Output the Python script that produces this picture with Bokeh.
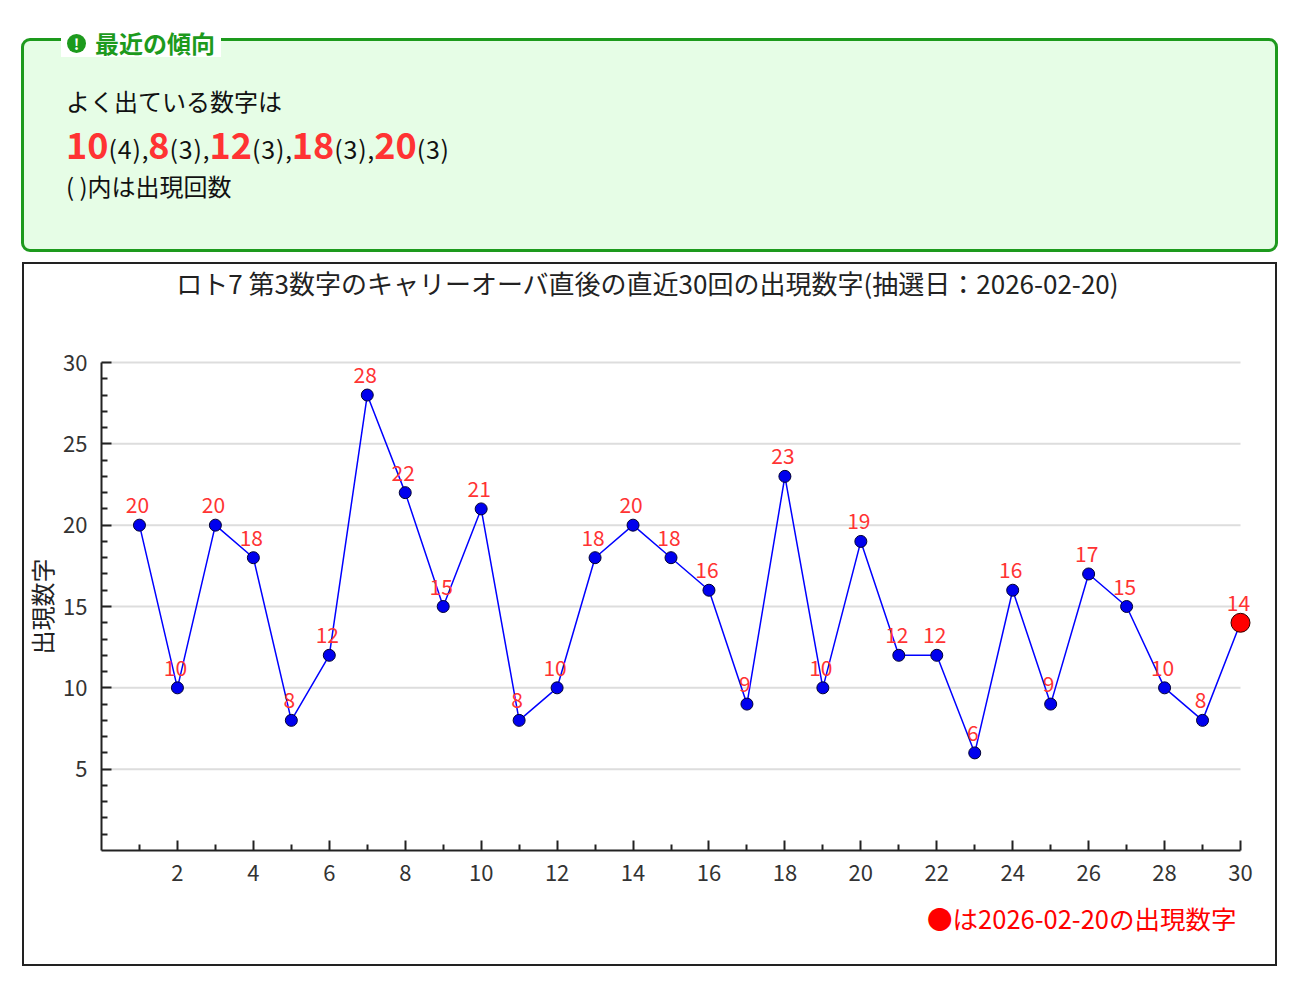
from bokeh.plotting import figure
from bokeh.models import Div, FixedTicker, ColumnDataSource, Label
from bokeh.layouts import column
from bokeh.core.properties import value
from bokeh.embed import file_html
from bokeh.resources import INLINE

# データ
kaisu = list(range(1, 31))
suji = [20, 10, 20, 18, 8, 12, 28, 22, 15, 21, 8, 10, 18, 20, 18,
        16, 9, 23, 10, 19, 12, 12, 6, 16, 9, 17, 15, 10, 8, 14]
yoku_deru = [10, 8, 12, 18, 20]
deta_kaisu = [4, 3, 3, 3, 3]
chusen_bi = "2026-02-20"
y_ticks = [5, 10, 15, 20, 25, 30]
y_minor = [i for i in range(1, 30) if i % 5 != 0]
x_ticks = list(range(2, 31, 2))
x_minor = list(range(1, 30, 2))

FONT = "Noto Sans CJK JP"
GREEN = "#1d9a1d"
RED = "#ff3333"

# 上の枠（最近の傾向）
nums_html = ",".join(
    f'<span style="color:{RED};font-weight:bold;font-size:36px">{n}</span>'
    f'<span style="font-size:25px;letter-spacing:0.8px">({c})</span>'
    for n, c in zip(yoku_deru, deta_kaisu))
html = f"""
<div style="position:relative;width:1276px;height:252px;font-family:'{FONT}';color:#111">
  <div style="position:absolute;left:16px;top:33px;width:1257px;height:214px;box-sizing:border-box;
       border:3px solid {GREEN};border-radius:9px;background:#e6fde6"></div>
  <div style="position:absolute;left:56px;top:24px;height:28px;padding:0 6px;background:#fff;color:{GREEN};
       font-weight:bold;font-size:24px;line-height:28px;white-space:nowrap">
    <span style="display:inline-block;width:19px;height:19px;border-radius:50%;background:{GREEN};color:#fff;
         font-size:15px;line-height:19px;text-align:center;vertical-align:3px;margin-right:9px">!</span>最近の傾向</div>
  <div style="position:absolute;left:61px;top:81px;font-size:24px;line-height:30px;white-space:nowrap">よく出ている数字は</div>
  <div style="position:absolute;left:61px;top:116px;font-size:24px;line-height:44px;white-space:nowrap">{nums_html}</div>
  <div style="position:absolute;left:61px;top:166px;font-size:24px;line-height:30px;white-space:nowrap">( )内は出現回数</div>
</div>"""
div = Div(text=html, width=1276, height=252)

# グラフ：キャンバス全体をフレームにして、軸は 0 の位置に固定
px_y = 488 / 30      # 1目盛りあたりのピクセル
px_x = 1139 / 30
x_lo = -77 / px_x
x_hi = 30 + 39 / px_x
y_lo = -118 / px_y
y_hi = 30 + 98 / px_y

p = figure(width=1255, height=704, x_range=(x_lo, x_hi), y_range=(y_lo, y_hi),
           output_backend="svg", toolbar_location=None, title=None, min_border=0)
p.outline_line_color = None
p.grid.grid_line_color = None

p.xaxis.ticker = FixedTicker(ticks=x_ticks, minor_ticks=x_minor)
p.yaxis.ticker = FixedTicker(ticks=y_ticks, minor_ticks=y_minor)
p.xaxis.fixed_location = 0
p.yaxis.fixed_location = 0
p.xaxis.bounds = (0, 30)
p.yaxis.bounds = (0, 30)
for ax in (p.xaxis, p.yaxis):
    ax.axis_line_color = "#222222"
    ax.axis_line_width = 2
    ax.major_tick_line_color = "#222222"
    ax.major_tick_line_width = 2
    ax.minor_tick_line_color = "#222222"
    ax.minor_tick_line_width = 2
    ax.major_tick_in = 10
    ax.major_tick_out = 0
    ax.minor_tick_in = 6
    ax.minor_tick_out = 0
    ax.major_label_text_font = FONT
    ax.major_label_text_font_size = "22px"
    ax.major_label_text_color = "#333333"
p.xaxis.major_label_standoff = 14
p.yaxis.major_label_standoff = 14
p.yaxis.axis_label = "出現数字"
p.yaxis.axis_label_text_font = FONT
p.yaxis.axis_label_text_font_size = "24px"
p.yaxis.axis_label_text_font_style = "normal"
p.yaxis.axis_label_text_color = "#222222"
p.yaxis.axis_label_standoff = 1

# 横の目盛線
p.segment(x0=0, y0=y_ticks, x1=30, y1=y_ticks, line_color="#dddddd", line_width=2)

src = ColumnDataSource(data=dict(x=kaisu, y=suji, t=[str(v) for v in suji]))
p.line("x", "y", source=src, line_color="#0000ff", line_width=1.5)
p.scatter(kaisu[:-1], suji[:-1], size=12, fill_color="#0000ee", line_color="#000033", line_width=1)
p.scatter([kaisu[-1]], [suji[-1]], size=19, fill_color="#ff0000", line_color="#330000", line_width=1)
p.text("x", "y", text="t", source=src, x_offset=-2, y_offset=-20,
       text_align="center", text_baseline="middle", text_color=RED,
       text_font=value(FONT), text_font_size="21px")

p.add_layout(Label(x=546 / px_x, y=30 + 80 / px_y,
                   text=f"ロト7 第3数字のキャリーオーバ直後の直近30回の出現数字(抽選日：{chusen_bi})",
                   text_align="center", text_baseline="middle", text_font=FONT,
                   text_font_size="26px", text_color="#222222"))

# 凡例（●は抽選日の出現数字）
p.add_layout(Label(x=1135 / px_x, y=-67 / px_y, text=f"●は{chusen_bi}の出現数字",
                   text_align="right", text_baseline="middle", text_font=FONT,
                   text_font_size="25.5px", text_color="#ff0000"))

p.margin = (0, 0, 0, 22)
p.styles = {"border": "2px solid #222222"}

layout = column(div, p)
open("out.html", "w").write(file_html(layout, INLINE))
